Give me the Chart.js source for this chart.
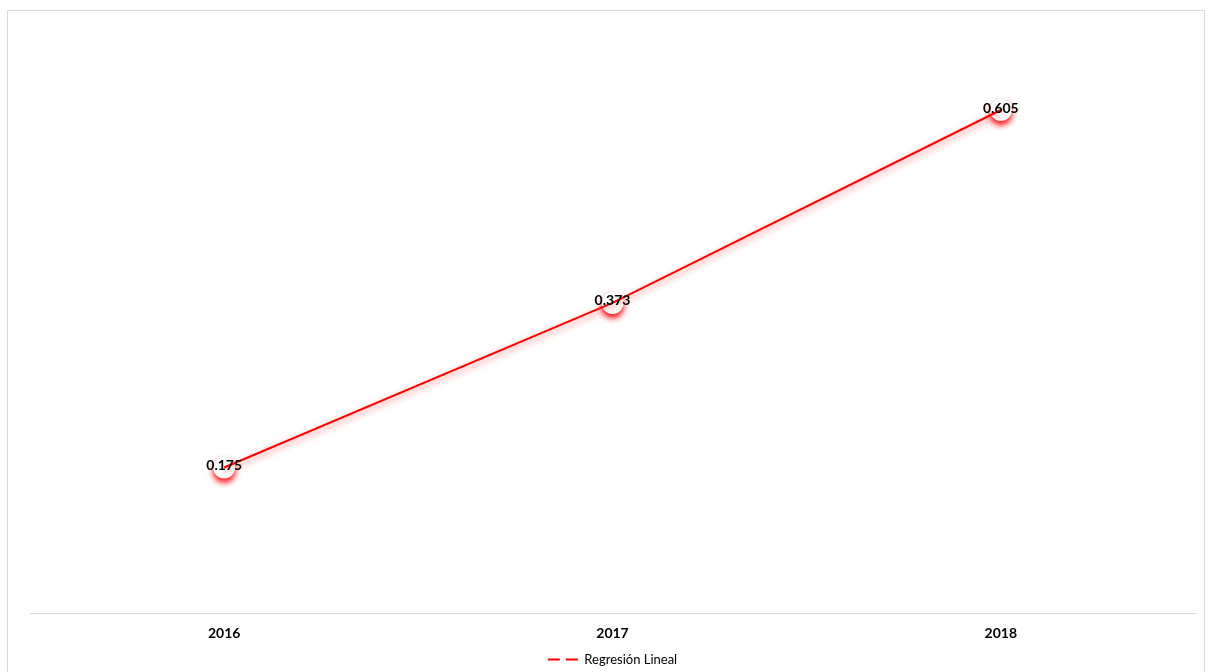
<!DOCTYPE html>
<html>
<head>
<meta charset="utf-8">
<script src="https://cdn.jsdelivr.net/npm/chart.js@4"></script>
<style>
  body { margin: 0; background: #fff; }
  #wrap { position: relative; width: 1211px; height: 672px; overflow: hidden; }
  #frame { position: absolute; left: 7px; top: 10px; width: 1198px; height: 700px; border: 1px solid #d9d9d9; box-sizing: border-box; }
  #myChart { position: absolute; left: 0; top: 0; }
</style>
</head>
<body>
<div id="wrap">
  <div id="frame"></div>
  <canvas id="myChart" width="1211" height="672"></canvas>
</div>
<script>
const years = ["2016", "2017", "2018"];
const regresion = [0.175, 0.373, 0.605];
const seriesName = "Regresión Lineal";

// red glow: soft around the line, a crescent under the markers
const glowPlugin = {
  id: "glow",
  beforeDatasetDraw(chart, args) {
    let ctx = chart.ctx
    ctx.save()
    if (args.index == 0) {
      ctx.shadowColor = "rgba(255,0,0,0.55)"
      ctx.shadowBlur = 7
      ctx.shadowOffsetY = 3
    } else {
      ctx.shadowColor = "rgba(255,0,0,1)"
      ctx.shadowBlur = 6
      ctx.shadowOffsetY = 4
    }
  },
  afterDatasetDraw(chart) {
    chart.ctx.restore()
  }
};

// value labels on top of each point
const valueLabels = {
  id: "valueLabels",
  afterDatasetsDraw(chart) {
    let ctx = chart.ctx
    let meta = chart.getDatasetMeta(1)
    ctx.save()
    ctx.font = "bold 14px Lato"
    ctx.fillStyle = "#000"
    ctx.textAlign = "center"
    ctx.textBaseline = "middle"
    meta.data.forEach((pt, i) => {
      ctx.fillText(regresion[i].toFixed(3), pt.x, pt.y - 2)
    })
    ctx.restore()
  }
};

new Chart("myChart", {
  type: "line",
  data: {
    labels: years,
    datasets: [{
      label: seriesName,
      data: regresion,
      borderColor: "#ff0000",
      borderWidth: 2,
      pointRadius: 0,
      fill: false,
      tension: 0
    }, {
      label: seriesName,
      data: regresion,
      showLine: false,
      pointRadius: 11,
      pointHoverRadius: 11,
      pointBackgroundColor: "#ffffff",
      pointBorderColor: "rgba(255,255,255,0)",
      pointBorderWidth: 0
    }]
  },
  options: {
    responsive: false,
    animation: false,
    events: [],
    layout: { padding: { left: 30, right: 16, top: 31, bottom: -4 } },
    scales: {
      x: {
        offset: true,
        grid: { display: false, drawTicks: false },
        border: { color: "#d9d9d9", width: 1 },
        ticks: { color: "#000", font: { family: "Lato", size: 14, weight: "bold", lineHeight: 1 }, padding: 13 }
      },
      y: { display: false, min: 0, max: 0.7 }
    },
    plugins: {
      tooltip: { enabled: false },
      legend: {
        position: "bottom",
        labels: {
          usePointStyle: true,
          pointStyleWidth: 30,
          padding: 0,
          color: "#595959",
          font: { family: "Lato", size: 13 },
          generateLabels(chart) {
            let ds = chart.data.datasets[0]
            return [{
              text: ds.label,
              pointStyle: "line",
              strokeStyle: "#ff0000",
              fillStyle: "#ff0000",
              lineWidth: 2,
              lineDash: [12, 6],
              datasetIndex: 0
            }]
          }
        }
      }
    }
  },
  plugins: [glowPlugin, valueLabels]
});
</script>
</body>
</html>
